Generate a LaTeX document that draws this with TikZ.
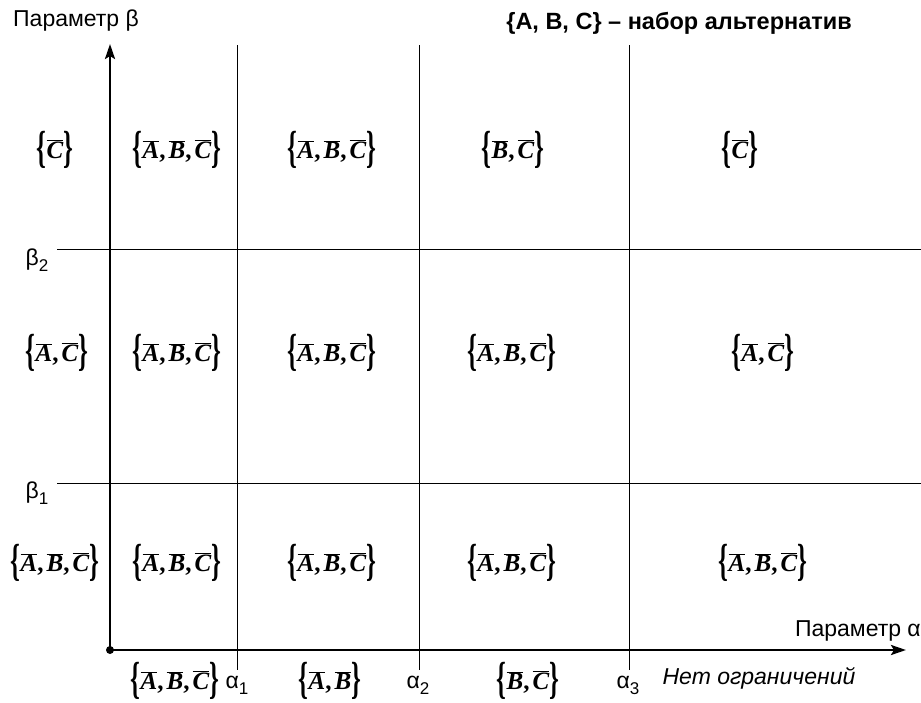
\documentclass[tikz,border=0pt]{standalone}
\usepackage{fontspec}
\usepackage{graphicx}
\setmainfont{Liberation Sans}
\newfontfamily\tnr{Liberation Serif}
\usetikzlibrary{arrows.meta}
\newcommand\ov[1]{$\overline{\hbox{\tnr\bfseries\itshape #1}}$}
\newcommand\cm{{\tnr\bfseries ,}\hspace{3pt}}
\newcommand\lbr{\raisebox{-4pt}{\scalebox{1}[1.8]{\tnr\bfseries\{}}}
\newcommand\rbr{\raisebox{-4pt}{\scalebox{1}[1.8]{\tnr\bfseries\}}}}
\newcommand\st[1]{\lbr#1\rbr}
\newcommand\sub[1]{\raisebox{-0.5ex}{\fontsize{17}{18}\selectfont #1}}
\begin{document}
\begin{tikzpicture}[x=1pt,y=-1pt,
  axis/.style={line width=2.6pt,-{Stealth[length=15pt,width=10pt,inset=3pt]}},
  gridline/.style={line width=0.9pt},
  lbl/.style={font=\fontsize{23}{26}\selectfont, inner sep=0pt},
  setlbl/.style={font=\fontsize{25}{28}\selectfont, inner sep=0pt}]
\useasboundingbox (0,0) rectangle (921,702);
% coordinates
\coordinate (O) at (110,650);
\coordinate (Ytop) at (110,44);
\coordinate (Xend) at (906,650);
\coordinate (a1t) at (237,45); \coordinate (a1b) at (237,670);
\coordinate (a2t) at (419,45); \coordinate (a2b) at (419,670);
\coordinate (a3t) at (629,45); \coordinate (a3b) at (629,670);
\coordinate (b2l) at (57,249); \coordinate (b2r) at (921,249);
\coordinate (b1l) at (57,483); \coordinate (b1r) at (921,483);
% grid
\draw[gridline] (a1t) -- (a1b);
\draw[gridline] (a2t) -- (a2b);
\draw[gridline] (a3t) -- (a3b);
\draw[gridline] (b2l) -- (b2r);
\draw[gridline] (b1l) -- (b1r);
% axes
\draw[axis] (O) -- (Ytop);
\draw[axis] (O) -- (Xend);
\fill (O) circle (4);
% text labels
\node[lbl, anchor=west] (pb) at (13,21) {Параметр β};
\node[lbl, anchor=east, font=\fontsize{23.5}{26}\selectfont\bfseries] (title) at (852,23) {\{A, B, C\} – набор альтернатив};
\node[lbl] (beta2) at (37,260) {β\sub{2}};
\node[lbl] (beta1) at (37,493) {β\sub{1}};
\node[lbl, anchor=east] (pa) at (921,631) {Параметр α};
\node[lbl] (al1) at (237,685) {α\sub{1}};
\node[lbl] (al2) at (418,685) {α\sub{2}};
\node[lbl] (al3) at (628,685) {α\sub{3}};
\node[lbl, font=\fontsize{23}{26}\selectfont\itshape] (none) at (759,678) {Нет ограничений};
% sets, top row
\node[setlbl] (s11) at (55,150) {\st{\ov{C}}};
\node[setlbl] (s12) at (177,150) {\st{\ov{A}\cm\ov{B}\cm\ov{C}}};
\node[setlbl] (s13) at (332,150) {\st{\ov{A}\cm\ov{B}\cm\ov{C}}};
\node[setlbl] (s14) at (513,150) {\st{\ov{B}\cm\ov{C}}};
\node[setlbl] (s15) at (740,150) {\st{\ov{C}}};
% middle row
\node[setlbl] (s21) at (57,353) {\st{\ov{A}\cm\ov{C}}};
\node[setlbl] (s22) at (177,353) {\st{\ov{A}\cm\ov{B}\cm\ov{C}}};
\node[setlbl] (s23) at (332,353) {\st{\ov{A}\cm\ov{B}\cm\ov{C}}};
\node[setlbl] (s24) at (512,353) {\st{\ov{A}\cm\ov{B}\cm\ov{C}}};
\node[setlbl] (s25) at (763,353) {\st{\ov{A}\cm\ov{C}}};
% bottom row
\node[setlbl] (s31) at (55,563) {\st{\ov{A}\cm\ov{B}\cm\ov{C}}};
\node[setlbl] (s32) at (177,563) {\st{\ov{A}\cm\ov{B}\cm\ov{C}}};
\node[setlbl] (s33) at (332,563) {\st{\ov{A}\cm\ov{B}\cm\ov{C}}};
\node[setlbl] (s34) at (512,563) {\st{\ov{A}\cm\ov{B}\cm\ov{C}}};
\node[setlbl] (s35) at (763,563) {\st{\ov{A}\cm\ov{B}\cm\ov{C}}};
% below axis
\node[setlbl] (s41) at (175,681) {\st{\ov{A}\cm\ov{B}\cm\ov{C}}};
\node[setlbl] (s42) at (330,681) {\st{\ov{A}\cm\ov{B}}};
\node[setlbl] (s43) at (528,681) {\st{\ov{B}\cm\ov{C}}};
\end{tikzpicture}
\end{document}
